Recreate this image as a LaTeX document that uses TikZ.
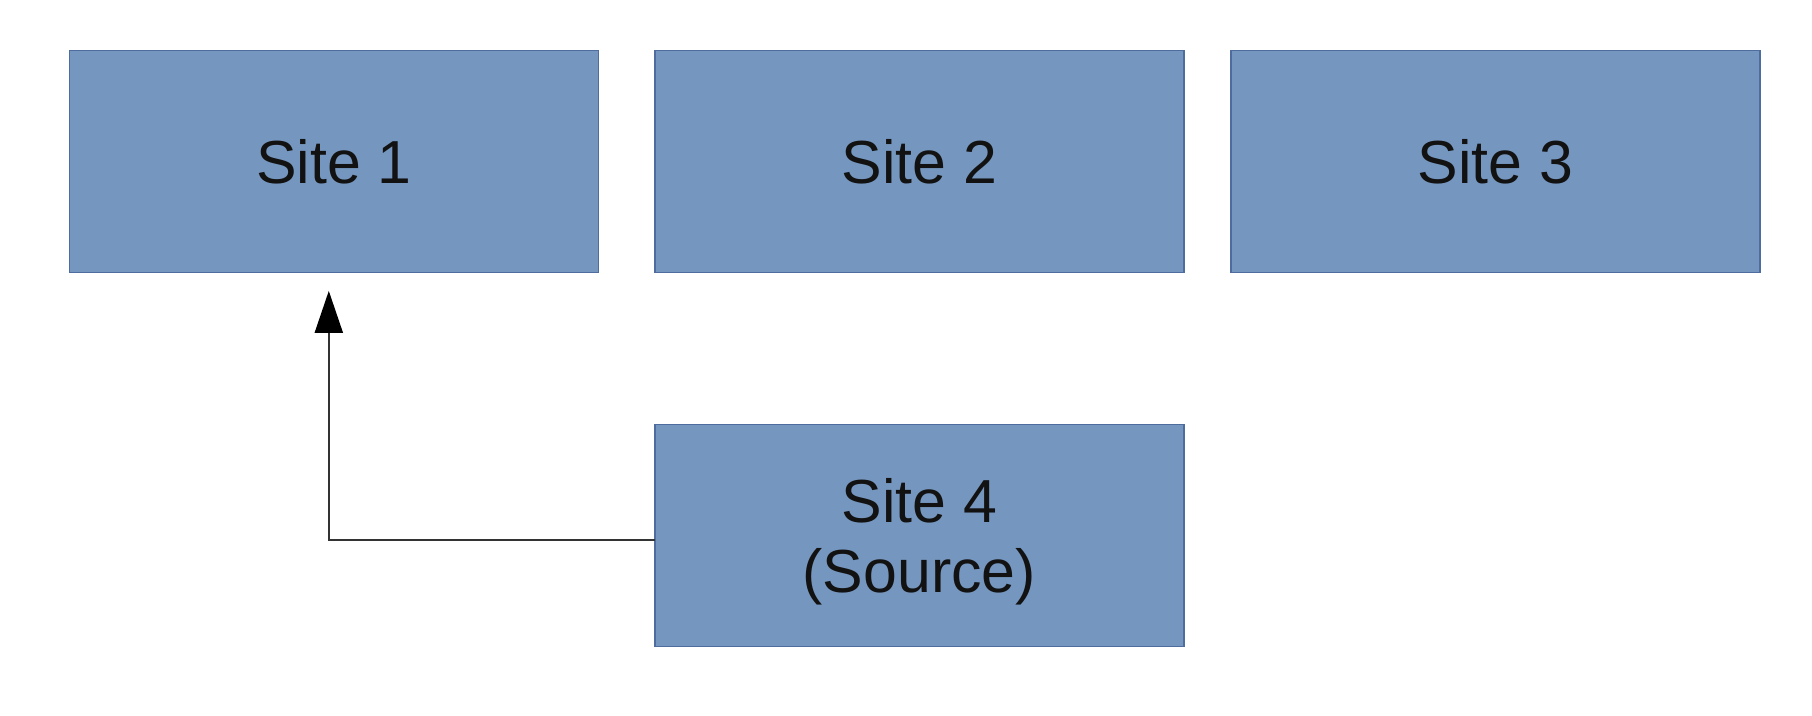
\documentclass[tikz,border=0pt]{standalone}
\usepackage{fontspec}
\setmainfont{Liberation Sans}
\usetikzlibrary{arrows.meta,%
                positioning}
\definecolor{sitefill}{RGB}{117,150,190}
\definecolor{siteline}{RGB}{78,108,158}
\definecolor{linkgray}{RGB}{51,51,51}
\tikzset{site/.style={rectangle,fill=sitefill,draw=siteline,line width=0.4pt,
           minimum width=5.29cm,minimum height=2.22cm,inner sep=0pt,outer sep=0pt,
           align=center,text=black!93,font=\fontsize{17.3}{19.8}\selectfont},
         link/.style={draw=linkgray,line width=0.6pt,
           -{Triangle[length=0.42cm,width=0.28cm,color=black]}}}
\begin{document}
\begin{tikzpicture}

      \useasboundingbox[fill=white] (0,0) rectangle (18.12,7.16);

      \node[site] (site1) at (3.338,5.546) {Site 1};
      \node[site,right=0.565cm of site1] (site2) {Site 2};
      \node[site,right=0.47cm of site2] (site3) {Site 3};
      \node[site,below=1.52cm of site2,text depth=0pt] (site4) {Site 4\\(Source)};

      \draw[link,shorten >=0.185cm] ([yshift=-0.05cm]site4.west) -|
      ([xshift=-0.05cm]site1.south);

\end{tikzpicture}
\end{document}
